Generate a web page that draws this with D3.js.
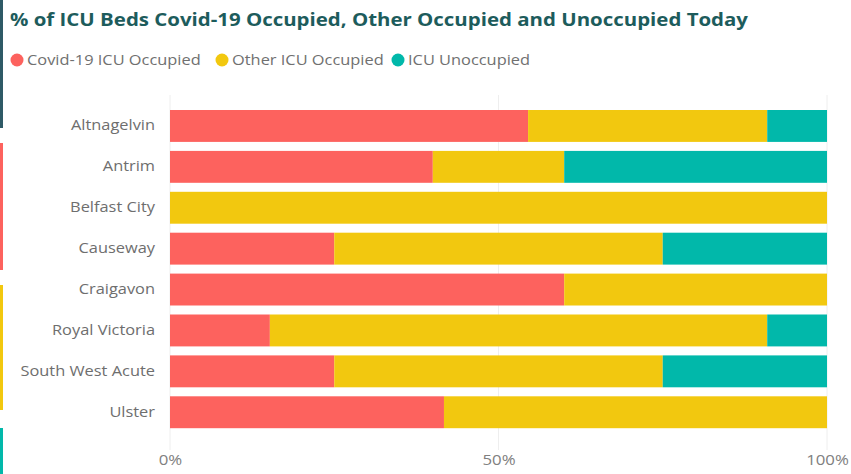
<!DOCTYPE html>
<html><head><meta charset="utf-8">
<script src="https://cdn.jsdelivr.net/npm/d3@7"></script>
<style>body{margin:0;background:#fff}svg{display:block}</style>
</head><body><svg id="c" width="851" height="474"></svg>
<script>
const categories = ["Altnagelvin","Antrim","Belfast City","Causeway","Craigavon","Royal Victoria","South West Acute","Ulster"];
const seriesNames = ["Covid-19 ICU Occupied","Other ICU Occupied","ICU Unoccupied"];
const covidPct = [54.5, 40, 0, 25, 60, 15.2, 25, 41.7];
const otherPct = [36.4, 20, 100, 50, 40, 75.7, 50, 58.3];
const unoccPct = [9.1, 40, 0, 25, 0, 9.1, 25, 0];
const tickValues = [0, 50, 100];
const colors = ["#fd625e","#f2c80f","#01b8aa"];

const svg = d3.select("#c");
const font = "'Open Sans', 'Segoe UI', sans-serif";
function widen(k){ return sel => sel.each(function(){ const w=this.getComputedTextLength(); d3.select(this).attr("textLength",w*k).attr("lengthAdjust","spacingAndGlyphs"); }); }

// side strips (neighbouring visuals)
const strips = [[0,128,"#2f5a66"],[143,270,"#fd625e"],[285,410,"#f2c80f"],[428,474,"#01b8aa"]];
svg.selectAll("rect.strip").data(strips).join("rect").attr("class","strip")
  .attr("x",0).attr("width",3).attr("y",d=>d[0]).attr("height",d=>d[1]-d[0]).attr("fill",d=>d[2]);

svg.append("text").attr("x",10).attr("y",26).attr("font-family",font).attr("font-weight",700)
  .attr("font-size",17).attr("fill","#1d5c5c").attr("textLength",738).attr("lengthAdjust","spacingAndGlyphs")
  .text("% of ICU Beds Covid-19 Occupied, Other Occupied and Unoccupied Today");

// legend
const legX = [17, 222, 398];
const lg = svg.selectAll("g.leg").data(seriesNames).join("g").attr("class","leg")
  .attr("transform",(d,i)=>`translate(${legX[i]},60)`);
lg.append("circle").attr("r",6.5).attr("fill",(d,i)=>colors[i]);
lg.append("text").attr("x",10).attr("y",5).attr("font-family",font).attr("font-size",14)
  .attr("fill","#707070").text(d=>d).call(widen(1.17));

const x = d3.scaleLinear().domain([0,100]).range([170,827]);
const y = d3.scaleBand().domain(categories).range([105.5,432.7]).paddingInner(0.22).paddingOuter(0.11);

// gridlines
svg.selectAll("line.grid").data(tickValues).join("line").attr("class","grid")
  .attr("x1",d=>x(d)).attr("x2",d=>x(d)).attr("y1",95).attr("y2",450)
  .attr("stroke","#eeeeee").attr("stroke-width",1);

const rows = categories.map((c,i)=>({cat:c, a:covidPct[i], b:otherPct[i], c2:unoccPct[i]}));
const stack = d3.stack().keys(["a","b","c2"])(rows);
svg.selectAll("g.series").data(stack).join("g").attr("class","series").attr("fill",(d,i)=>colors[i])
  .selectAll("rect").data(d=>d).join("rect")
  .attr("x",d=>x(d[0])).attr("width",d=>Math.max(0,x(d[1])-x(d[0])))
  .attr("y",d=>y(d.data.cat)).attr("height",y.bandwidth());

// y axis labels
const yAxis = d3.axisLeft(y).tickSize(0).tickPadding(15);
const ya = svg.append("g").attr("transform","translate(170,0)").call(yAxis);
ya.select(".domain").remove();
ya.selectAll("text").attr("font-family",font).attr("font-size",14).attr("fill","#6e6e6e").call(widen(1.17));

// x axis
const xAxis = d3.axisBottom(x).tickValues(tickValues).tickSize(0).tickPadding(0).tickFormat(d=>d+"%");
const xa = svg.append("g").attr("transform","translate(0,455)").call(xAxis);
xa.select(".domain").remove();
xa.selectAll("text").attr("font-family",font).attr("font-size",14).attr("fill","#808080").call(widen(1.2));
</script></body></html>
